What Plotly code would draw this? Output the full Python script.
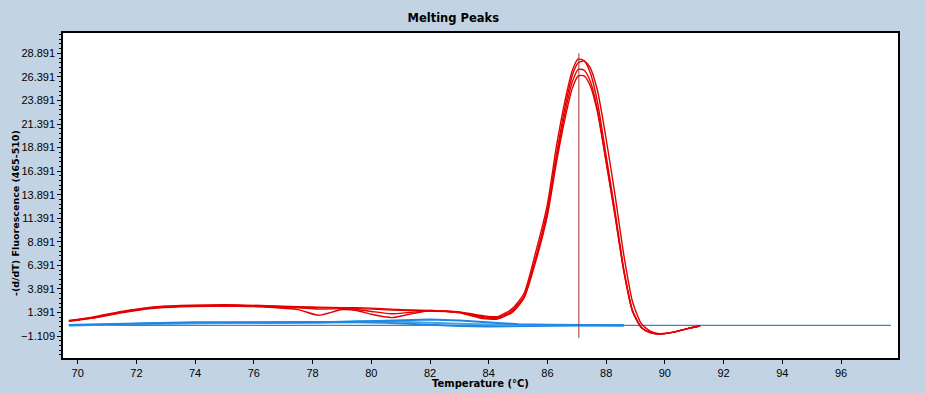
import plotly.graph_objects as go

# ---- data ----
T_red = [69.7, 70.5, 71.5, 72.5, 73.5, 74.5, 75.5, 76.5, 77.5, 78.2, 79.0, 79.5, 80.0, 80.7, 81.3, 82.0,
         83.0, 83.8, 84.3, 84.8, 85.2, 85.6, 86.0, 86.3, 86.6, 86.85, 87.05, 87.25, 87.45, 87.7, 88.0,
         88.3, 88.6, 88.9, 89.2, 89.5, 89.8, 90.3, 90.8, 91.2]
red_a = [0.55, 0.9, 1.5, 1.95, 2.15, 2.2, 2.2, 2.1, 2.0, 1.95, 1.9, 1.9, 1.85, 1.75, 1.65, 1.6,
         1.45, 1.05, 0.95, 1.8, 3.4, 7.8, 12.9, 18.9, 23.9, 27.1, 28.3, 28.1, 26.9, 23.8, 18.0,
         12.2, 6.0, 1.6, -0.2, -0.75, -0.9, -0.7, -0.3, -0.05]
red_b = [0.5, 0.85, 1.45, 1.9, 2.1, 2.15, 2.15, 2.05, 1.95, 1.9, 1.85, 1.8, 1.75, 1.65, 1.6, 1.55,
         1.4, 0.95, 0.85, 1.6, 3.1, 7.2, 12.3, 18.0, 23.2, 26.6, 27.9, 28.1, 27.4, 25.0, 19.8,
         13.9, 7.5, 2.5, 0.2, -0.6, -0.85, -0.7, -0.3, -0.05]
red_c = [0.5, 0.8, 1.4, 1.85, 2.05, 2.1, 2.1, 2.0, 1.9, 1.75, 1.8, 1.7, 1.5, 1.25, 1.4, 1.55,
         1.4, 0.85, 0.75, 1.5, 3.0, 7.0, 12.0, 17.6, 22.6, 25.9, 27.2, 27.1, 26.0, 23.0, 17.5,
         11.8, 5.8, 1.5, -0.2, -0.75, -0.9, -0.7, -0.3, -0.05]
red_d = [0.45, 0.8, 1.35, 1.8, 2.0, 2.05, 2.05, 1.95, 1.7, 1.1, 1.7, 1.6, 1.2, 0.85, 1.2, 1.6,
         1.35, 0.75, 0.7, 1.4, 2.9, 6.8, 11.7, 17.2, 22.0, 25.2, 26.5, 26.5, 25.5, 22.7, 17.3,
         11.7, 5.8, 1.5, -0.2, -0.75, -0.9, -0.7, -0.3, -0.05]

T_blue = [69.7, 71.0, 72.5, 74.0, 76.0, 78.0, 79.4, 80.5, 81.2, 82.0, 83.0, 84.0, 85.0, 86.0, 87.0, 88.6]
blue_a = [0.05, 0.15, 0.3, 0.35, 0.35, 0.35, 0.4, 0.5, 0.6, 0.65, 0.55, 0.35, 0.15, 0.1, 0.05, 0.03]
blue_b = [0.0, 0.1, 0.2, 0.25, 0.3, 0.3, 0.35, 0.3, 0.2, 0.05, -0.05, -0.1, -0.05, 0.0, 0.0, 0.0]
blue_c = [0.05, 0.1, 0.25, 0.3, 0.3, 0.3, 0.45, 0.45, 0.35, 0.3, 0.2, 0.1, 0.05, 0.05, 0.02, 0.02]
T_base = [69.7, 97.7]
blue_base = [0.02, 0.02]

peak_T = [87.07, 87.07]
peak_y = [-1.3, 28.9]

x_ticks = [70, 72, 74, 76, 78, 80, 82, 84, 86, 88, 90, 92, 94, 96]

# ---- figure ----
fig = go.Figure()
blue = "rgb(30,134,228)"
fig.add_trace(go.Scatter(x=T_base, y=blue_base, mode="lines",
                         line=dict(color="rgb(40,140,210)", width=1.2)))
for yv, col in [(blue_b, blue), (blue_c, "rgb(70,165,225)"), (blue_a, blue)]:
    fig.add_trace(go.Scatter(x=T_blue, y=yv, mode="lines", line=dict(color=col, width=2)))
for yv in [red_a, red_b, red_c, red_d]:
    fig.add_trace(go.Scatter(x=T_red, y=yv, mode="lines",
                             line=dict(color="rgb(228,0,0)", width=1.4, shape="spline",
                                       smoothing=0.6)))
fig.add_trace(go.Scatter(x=peak_T, y=peak_y, mode="lines",
                         line=dict(color="rgb(160,50,45)", width=1)))

tickfont = dict(family="Liberation Sans, Arial, sans-serif", size=11, color="black")
boldfont = dict(family="DejaVu Sans, sans-serif", size=11.5, color="black")

fig.update_layout(
    width=925, height=393,
    margin=dict(l=63, r=27, t=33, b=35, autoexpand=False),
    paper_bgcolor="rgb(194,212,228)",
    plot_bgcolor="white",
    showlegend=False,
    title=dict(text="<b>Melting Peaks</b>", font=boldfont, x=0.49, xanchor="center",
               xref="container", y=1 - 18 / 393, yref="container", yanchor="middle"),
    annotations=[
        dict(text="<b>-(d/dT) Fluorescence (465-510)</b>", textangle=-90,
             xref="paper", yref="paper", x=(15 - 63) / 835, y=(358 - 213) / 325,
             xanchor="center", yanchor="middle", showarrow=False,
             font=dict(family="DejaVu Sans, sans-serif", size=9.5, color="black")),
        dict(text="<b>Temperature (°C)</b>", xref="paper", yref="paper",
             x=(480 - 63) / 835, y=(358 - 383) / 325, xanchor="center", yanchor="middle",
             showarrow=False, font=dict(family="DejaVu Sans, sans-serif", size=10, color="black")),
    ],
)
fig.update_xaxes(range=[69.5, 97.94], tickvals=x_ticks, ticks="outside", ticklen=4,
                 tickcolor="black", showgrid=False, zeroline=False, showline=True,
                 linecolor="black", linewidth=1.5, mirror=True, tickfont=tickfont,
                 automargin=False)
fig.update_yaxes(range=[-3.44, 31.05], tick0=-1.109, dtick=2.5, tickformat=".3f",
                 ticks="outside", ticklen=4, tickcolor="black", showgrid=False,
                 zeroline=False, showline=True, linecolor="black", linewidth=1.5,
                 mirror=True, tickfont=tickfont, automargin=False,
                 minor=dict(dtick=0.5, tick0=-1.109, ticks="outside", ticklen=2,
                            tickcolor="black", showgrid=False))

fig.write_html("out.html", config={"displayModeBar": False},
               post_script="document.body.style.margin='0';document.body.style.padding='0';")
